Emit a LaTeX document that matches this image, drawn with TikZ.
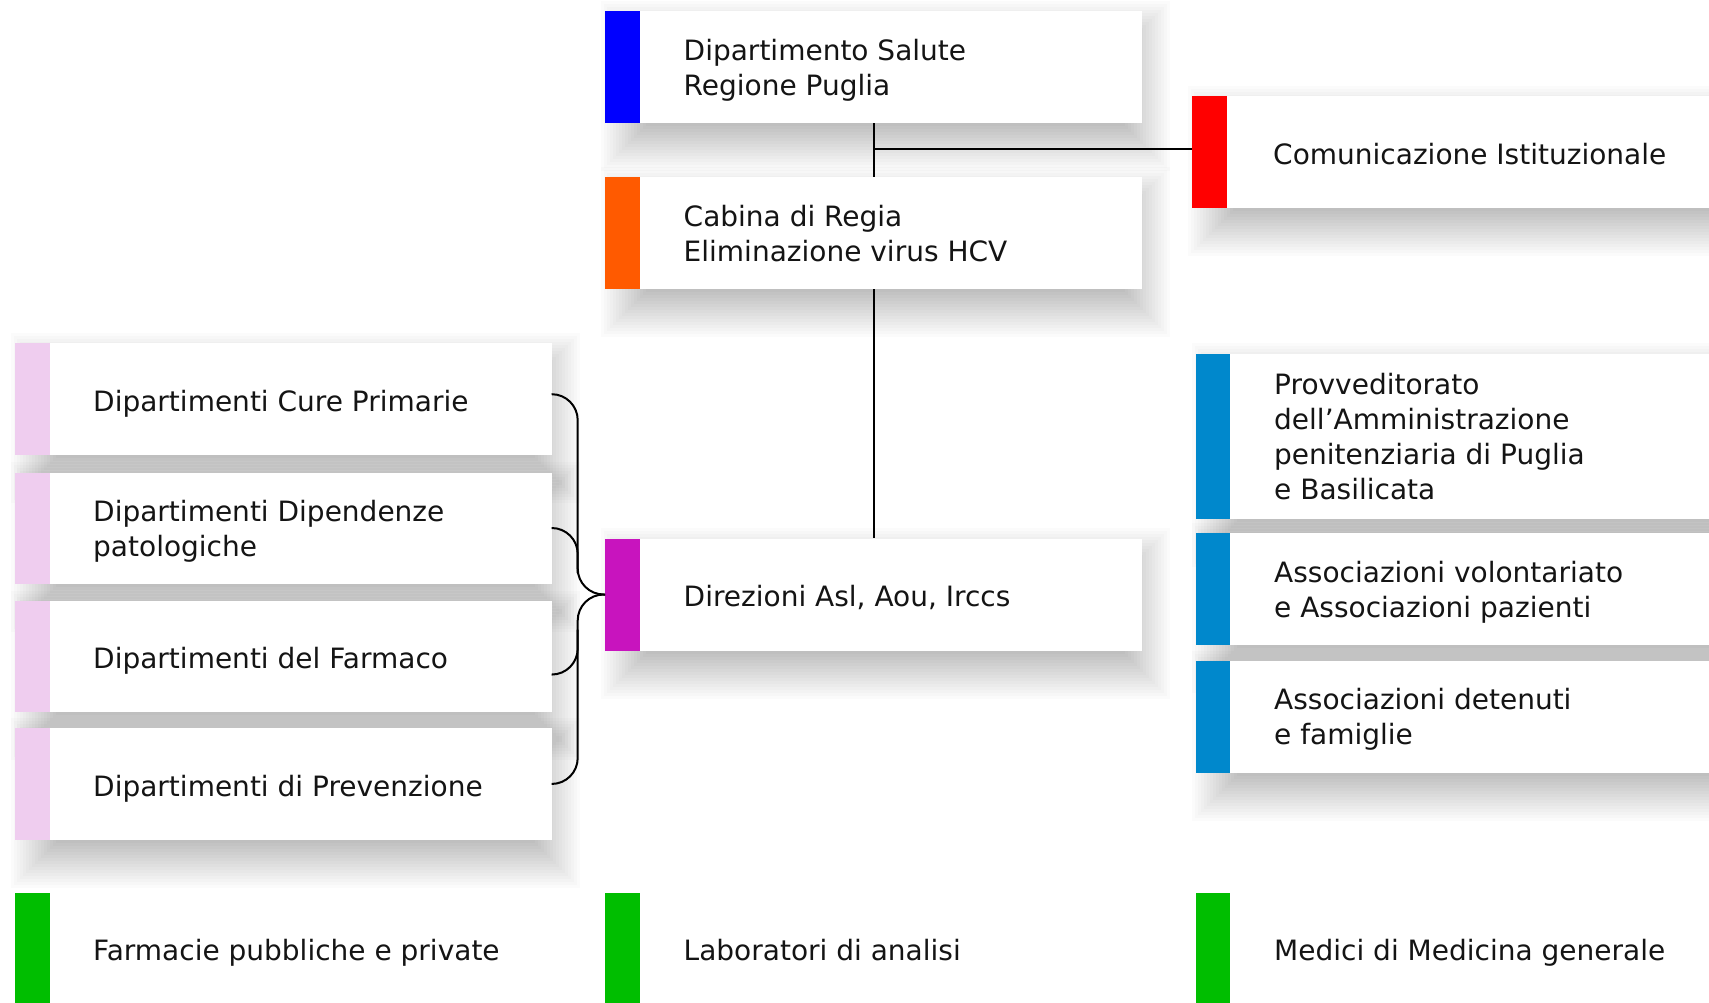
\documentclass[tikz,border=0pt]{standalone}
\usepackage{fontspec}
\setmainfont{DejaVu Sans}
\usetikzlibrary{calc}
\definecolor{cblue}{RGB}{0,0,255}
\definecolor{corange}{RGB}{255,90,0}
\definecolor{cred}{RGB}{255,0,0}
\definecolor{cmag}{RGB}{200,20,190}
\definecolor{cpink}{RGB}{239,205,239}
\definecolor{clblue}{RGB}{0,136,204}
\definecolor{cgreen}{RGB}{0,190,0}
\definecolor{txtc}{RGB}{20,20,20}
\pgfdeclarelayer{back}
\pgfdeclarelayer{shad}
\pgfsetlayers{back,shad,main}
\newcommand{\dropsh}[1]{%
  \begin{pgfonlayer}{shad}
  \foreach \e in {-14,-11,...,34}{%
    \fill[black,opacity=0.014] ($(#1.north west)+(30-\e,24-\e)$) rectangle ($(#1.south east)+(-6+\e,14+\e)$);
  }
  \end{pgfonlayer}}
\begin{document}
\begin{tikzpicture}[x=1pt,y=-1pt,
  barbox/.style={fill=white, draw=none, inner sep=0pt, anchor=north west,
    path picture={\fill[#1] (path picture bounding box.north west) rectangle ([xshift=34.5pt]path picture bounding box.south west);}},
  lab/.style={anchor=west, align=left, inner sep=0pt, text=txtc, yshift=-5.4pt,
    font=\fontsize{28}{35}\selectfont, execute at begin node=\strut, execute at end node=\strut},
  conn/.style={draw=black, line width=2pt},
]
\useasboundingbox (0,0) rectangle (1709,1003);
\begin{pgfonlayer}{back}
\fill[white] (0,0) rectangle (1709,1003);
\end{pgfonlayer}

% centre column
\node[barbox=cblue, minimum width=537pt, minimum height=112pt] (top) at (605,10.7) {};
\node[barbox=corange, minimum width=537pt, minimum height=112pt] (cab) at (605,176.7) {};
\node[barbox=cmag, minimum width=537pt, minimum height=112pt] (dir) at (605,538.3) {};
% right top
\node[barbox=cred, minimum width=570pt, minimum height=111.7pt] (comm) at (1192,96) {};
% left column
\node[barbox=cpink, minimum width=536.7pt, minimum height=111.6pt] (cure) at (15,342.7) {};
\node[barbox=cpink, minimum width=536.7pt, minimum height=111pt] (dip) at (15,472.3) {};
\node[barbox=cpink, minimum width=536.7pt, minimum height=111.3pt] (farm) at (15,600.7) {};
\node[barbox=cpink, minimum width=536.7pt, minimum height=111.5pt] (prev) at (15,728) {};
% right column
\node[barbox=clblue, minimum width=570pt, minimum height=165pt] (prov) at (1195.5,353.3) {};
\node[barbox=clblue, minimum width=570pt, minimum height=112pt] (avol) at (1195.5,533) {};
\node[barbox=clblue, minimum width=570pt, minimum height=111.6pt] (adet) at (1195.5,660.7) {};
% bottom row
\node[barbox=cgreen, minimum width=536.7pt, minimum height=130pt] (farmacie) at (15,893) {};
\node[barbox=cgreen, minimum width=537pt, minimum height=130pt] (lab) at (605,893) {};
\node[barbox=cgreen, minimum width=570pt, minimum height=130pt] (medici) at (1195.5,893) {};

\foreach \n in {top,cab,dir,comm,cure,dip,farm,prev,prov,avol,adet}{\dropsh{\n}}

% labels
\node[lab] at ([xshift=78.5pt]top.west) {Dipartimento Salute\\Regione Puglia};
\node[lab] at ([xshift=78.5pt]cab.west) {Cabina di Regia\\Eliminazione virus HCV};
\node[lab] at ([xshift=78.5pt]dir.west) {Direzioni Asl, Aou, Irccs};
\node[lab] at ([xshift=81pt]comm.west) {Comunicazione Istituzionale};
\node[lab] at ([xshift=78pt]cure.west) {Dipartimenti Cure Primarie};
\node[lab] at ([xshift=78pt]dip.west) {Dipartimenti Dipendenze\\patologiche};
\node[lab] at ([xshift=78pt]farm.west) {Dipartimenti del Farmaco};
\node[lab] at ([xshift=78pt]prev.west) {Dipartimenti di Prevenzione};
\node[lab] at ([xshift=78.5pt]prov.west) {Provveditorato\\dell’Amministrazione\\penitenziaria di Puglia\\e Basilicata};
\node[lab] at ([xshift=78.5pt]avol.west) {Associazioni volontariato\\e Associazioni pazienti};
\node[lab] at ([xshift=78.5pt]adet.west) {Associazioni detenuti\\e famiglie};
\node[lab] at ([xshift=78pt]farmacie.north west |- 0,948.5) {Farmacie pubbliche e private};
\node[lab] at ([xshift=78.5pt]lab.north west |- 0,948.5) {Laboratori di analisi};
\node[lab] at ([xshift=78.5pt]medici.north west |- 0,948.5) {Medici di Medicina generale};

% connectors
\draw[conn] (top.south) -- (cab.north);
\draw[conn] (cab.south) -- (dir.north);
\coordinate (cm) at ($(comm.west)+(0,-3)$);
\draw[conn] (cm) -- (cm -| top.south);

\coordinate (bx) at (577.7,0);
\coordinate (c1) at ($(cure.east)+(0,-4.5)$);
\draw[conn, rounded corners=26pt] (c1) -- (bx |- c1) -- (bx |- dir.west) -- (dir.west);
\draw[conn, rounded corners=26pt] (dir.west) -- (bx |- dir.west) -- (bx |- prev.east) -- (prev.east);
\coordinate (c2) at (bx |- dip.east);
\draw[conn, rounded corners=26pt] (dip.east) -- (c2) -- ($(c2)+(0,45)$);
\coordinate (c3) at ($(farm.east)+(0,18)$);
\coordinate (c3b) at (bx |- c3);
\draw[conn, rounded corners=26pt] (c3) -- (c3b) -- ($(c3b)+(0,-45)$);
\end{tikzpicture}
\end{document}
